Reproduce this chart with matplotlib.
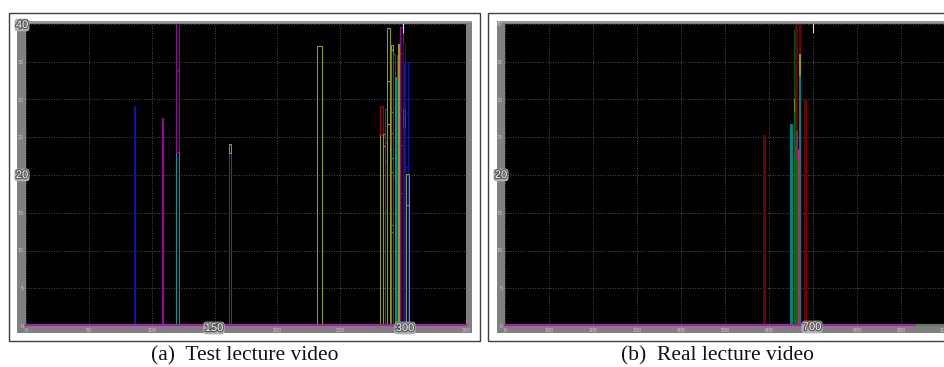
import matplotlib
matplotlib.use("Agg")
import matplotlib.pyplot as plt
from matplotlib.patches import Rectangle
import matplotlib.patheffects as pe

W, H = 945, 367

# colours used by the plotting tool
YEL = "#9c9c00"
MAG = "#a000a0"
CYA = "#0096a0"
BLU = "#1212a8"
RED = "#a00000"
GRN = "#007400"
DRED = "#720000"
TEAL = "#007f86"
DGRN = "#005200"
LGRN = "#6a9a00"
PINK = "#d81a78"
PLUM = "#961c72"

# (a) test lecture video: bar centres, widths, stacked segment tops and colours
a_x = [86.2, 108.5, 120.4, 162.3, 233.8, 282.5, 284.8, 286.2, 288.6,
       291.0, 292.8, 294.0, 295.3, 296.4, 298.8, 300.6, 302.0, 303.6]
a_w = [1.0, 1.2, 2.0, 1.6, 4.0, 2.5, 1.0, 1.2, 2.4,
       1.8, 1.0, 1.0, 1.0, 1.2, 2.0, 1.2, 3.0, 2.0]
a_tops = [
    [29.1],
    [18.7, 25.8, 27.5],
    [23.0, 33.9, 41.0],
    [22.9, 24.1],
    [37.1],
    [25.4, 29.1],
    [23.8, 25.4],
    [15.2, 21.8, 24.2, 28.7],
    [26.7, 32.5, 39.5],
    [12.5, 13.4, 20.4, 22.2, 25.6, 28.4, 36.6, 37.2],
    [19.8, 23.5, 29.0, 36.0],
    [17.5, 22.6, 24.8, 33.0],
    [21.0, 27.4, 35.9],
    [17.4, 21.3, 26.8, 33.3, 37.4],
    [17.6, 24.0, 36.1, 39.6],
    [26.3, 28.9, 37.5],
    [21.0, 28.2, 35.0],
    [16.0, 20.1],
]
a_cols = [
    [BLU],
    [MAG, MAG, MAG],
    [CYA, MAG, MAG],
    [MAG, YEL],
    [YEL],
    [YEL, RED],
    [YEL, YEL],
    [GRN, MAG, MAG, MAG],
    [YEL, YEL, YEL],
    [CYA, CYA, CYA, CYA, CYA, CYA, CYA, YEL],
    [GRN, GRN, MAG, GRN],
    [CYA, CYA, CYA, CYA],
    [MAG, MAG, MAG],
    [YEL, YEL, YEL, YEL, YEL],
    [MAG, MAG, MAG, MAG],
    [BLU, MAG, BLU],
    [BLU, BLU, BLU],
    [YEL, YEL],
]

# (b) real lecture video
b_x = [588.0, 650.5, 657.0, 659.5, 662.5, 665.6, 668.5, 682.5]
b_w = [4.0, 5.0, 2.0, 2.5, 2.0, 1.2, 2.5, 5.0]
b_tops = [
    [25.3],
    [26.8],
    [28.5, 30.2, 39.3],
    [24.0, 31.2, 42.0],
    [22.5, 26.0, 42.0],
    [23.4],
    [33.2, 36.1, 42.0],
    [29.9],
]
b_cols = [
    [DRED],
    [TEAL],
    [GRN, LGRN, DGRN],
    [GRN, DGRN, DRED],
    [GRN, PLUM, DRED],
    [PINK],
    [TEAL, YEL, DRED],
    [DRED],
]

a_xticks = list(range(0, 351, 50))
b_xticks = list(range(0, 1001, 100))
yticks = list(range(0, 41, 5))

captions = ["(a)  Test lecture video", "(b)  Real lecture video"]


def fx(x):
    return x / W


def fy(y):
    return 1 - y / H


def frect(x0, y0, x1, y1, **kw):
    return Rectangle((fx(x0), fy(y1)), (x1 - x0) / W, (y1 - y0) / H,
                     transform=fig.transFigure, zorder=-5, **kw)


fig = plt.figure(figsize=(W / 100, H / 100), dpi=100, facecolor="white")

# outer frames and grey window areas
fig.patches.append(frect(9, 13, 480, 341, fill=False, ec="#404040", lw=1.0))
fig.patches.append(frect(488, 13, 950, 341, fill=False, ec="#404040", lw=1.0))
fig.patches.append(frect(17, 21, 472, 333, fc="#808080", ec="none"))
fig.patches.append(frect(497, 21, 950, 333, fc="#808080", ec="none"))
fig.patches.append(frect(17, 21, 472, 23, fc="#9a9a9a", ec="none"))
fig.patches.append(frect(497, 21, 950, 23, fc="#9a9a9a", ec="none"))


def make_axes(x0, x1, xmax, xticks, hidden_x, hidden_y):
    ax = fig.add_axes([fx(x0), fy(326), (x1 - x0) / W, 302 / H])
    ax.set_facecolor("black")
    ax.set_xlim(0, xmax)
    ax.set_ylim(0, 40)
    ax.set_xticks(xticks)
    ax.set_yticks(yticks)
    # labels sitting under a magnifier badge are covered by it
    ax.set_xticklabels(["" if t in hidden_x else str(t) for t in xticks])
    ax.set_yticklabels(["" if t in hidden_y else str(t) for t in yticks])
    ax.tick_params(length=0, labelsize=3.4, colors="#d0d0d0", pad=1.5)
    ax.grid(True, color="#686868", lw=0.6, ls=(0, (1, 2)))
    ax.set_axisbelow(True)
    for s in ax.spines.values():
        s.set_visible(False)
    return ax


def draw_bars(ax, xs, ws, tops, cols, filled):
    for x, w, tt, cc in zip(xs, ws, tops, cols):
        lo = 0.0
        for t, c in zip(tt, cc):
            ax.bar(x, t - lo, bottom=lo, width=w, fill=filled,
                   facecolor=c if filled else "none", edgecolor=c, lw=0.75)
            lo = t


ax_a = make_axes(26, 466, 350, a_xticks, {150, 300}, {20, 40})
draw_bars(ax_a, a_x, a_w, a_tops, a_cols, False)
ax_a.plot([0, 350], [0.08, 0.08], color="#a820a8", lw=1.6, clip_on=False, zorder=5)
ax_a.plot([300, 300], [39.0, 40.0], color="#e0e0e0", lw=0.8, clip_on=False)

ax_b = make_axes(505, 945, 1000, b_xticks, {700}, {20})
draw_bars(ax_b, b_x, b_w, b_tops, b_cols, True)
ax_b.plot([0, 936], [0.08, 0.08], color="#a820a8", lw=1.6, clip_on=False, zorder=5)
ax_b.plot([936, 1000], [0.08, 0.08], color="#607860", lw=1.6, clip_on=False, zorder=5)
ax_b.plot([700, 700], [39.0, 40.0], color="#e0e0e0", lw=0.8, clip_on=False)

# magnifier badges
stroke = [pe.withStroke(linewidth=1.6, foreground="#505050")]
badges = [("40", 22, 25), ("20", 22, 175), ("150", 214, 328), ("300", 405, 328),
          ("20", 501, 175), ("700", 812, 327)]
for txt, bx, by in badges:
    fig.text(fx(bx), fy(by), txt, ha="center", va="center", fontsize=8,
             family="Liberation Sans", color="white", path_effects=stroke,
             bbox=dict(boxstyle="round,pad=0.12,rounding_size=0.3",
                       fc="#b0b0b0", ec="none"), zorder=10)

for cap, cx in zip(captions, [245, 718]):
    fig.text(fx(cx), fy(356), cap, ha="center", va="center", fontsize=15.5,
             family="Liberation Serif", color="#111111")

fig.savefig("out.png", dpi=100, facecolor="white")
